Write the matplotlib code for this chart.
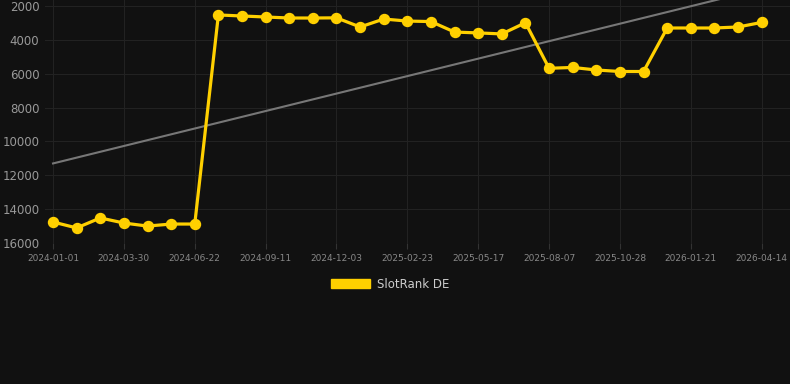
import numpy as np
import matplotlib.pyplot as plt

tick_labels = ["2024-01-01", "2024-03-30", "2024-06-22", "2024-09-11", "2024-12-03",
               "2025-02-23", "2025-05-17", "2025-08-07", "2025-10-28", "2026-01-21",
               "2026-04-14"]
rank_de = [14760, 15110, 14520, 14820, 15000, 14880, 14880,
           2530, 2590, 2650, 2710, 2710, 2700, 3240, 2770, 2890, 2920,
           3540, 3590, 3650, 2990,
           5680, 5630, 5780, 5870, 5870,
           3300, 3300, 3300, 3240, 2970]

idx = np.arange(len(rank_de))
trend = np.polyval(np.polyfit(idx, rank_de, 1), idx)

bg = "#111111"
fig = plt.figure(figsize=(7.9, 3.84), dpi=100, facecolor=bg)
ax = fig.add_axes([45 / 790, 1 - 243 / 384, 745 / 790, 243 / 384], facecolor=bg)

ax.plot(idx, trend, color="#777777", lw=1.5, zorder=2)
ax.plot(idx, rank_de, color="#FFD000", lw=2.3, marker="o", ms=7.2, zorder=3)

ax.set_ylim(16000, 1646)
ax.set_xlim(-0.34, 31.2)
ax.set_yticks(range(2000, 16001, 2000))
ax.set_xticks(idx[::3])
ax.set_xticklabels(tick_labels)
ax.grid(True, color="#222222", lw=0.8)
ax.set_axisbelow(True)
for s in ax.spines.values():
    s.set_visible(False)
ax.tick_params(axis="y", length=0, labelsize=8.5, colors="#999999", pad=4)
ax.tick_params(axis="x", length=4, color="#333333", labelsize=6.5, colors="#888888", pad=4)

fig.legend(handles=[plt.Rectangle((0, 0), 1, 1, color="#FFD000")], labels=["SlotRank DE"],
           loc="center", bbox_to_anchor=(390 / 790, 1 - 284 / 384), frameon=False,
           handlelength=3.3, handleheight=0.9, handletextpad=0.6, fontsize=8.5,
           labelcolor="#cccccc")

plt.savefig("out.png", dpi=100, facecolor=bg)
